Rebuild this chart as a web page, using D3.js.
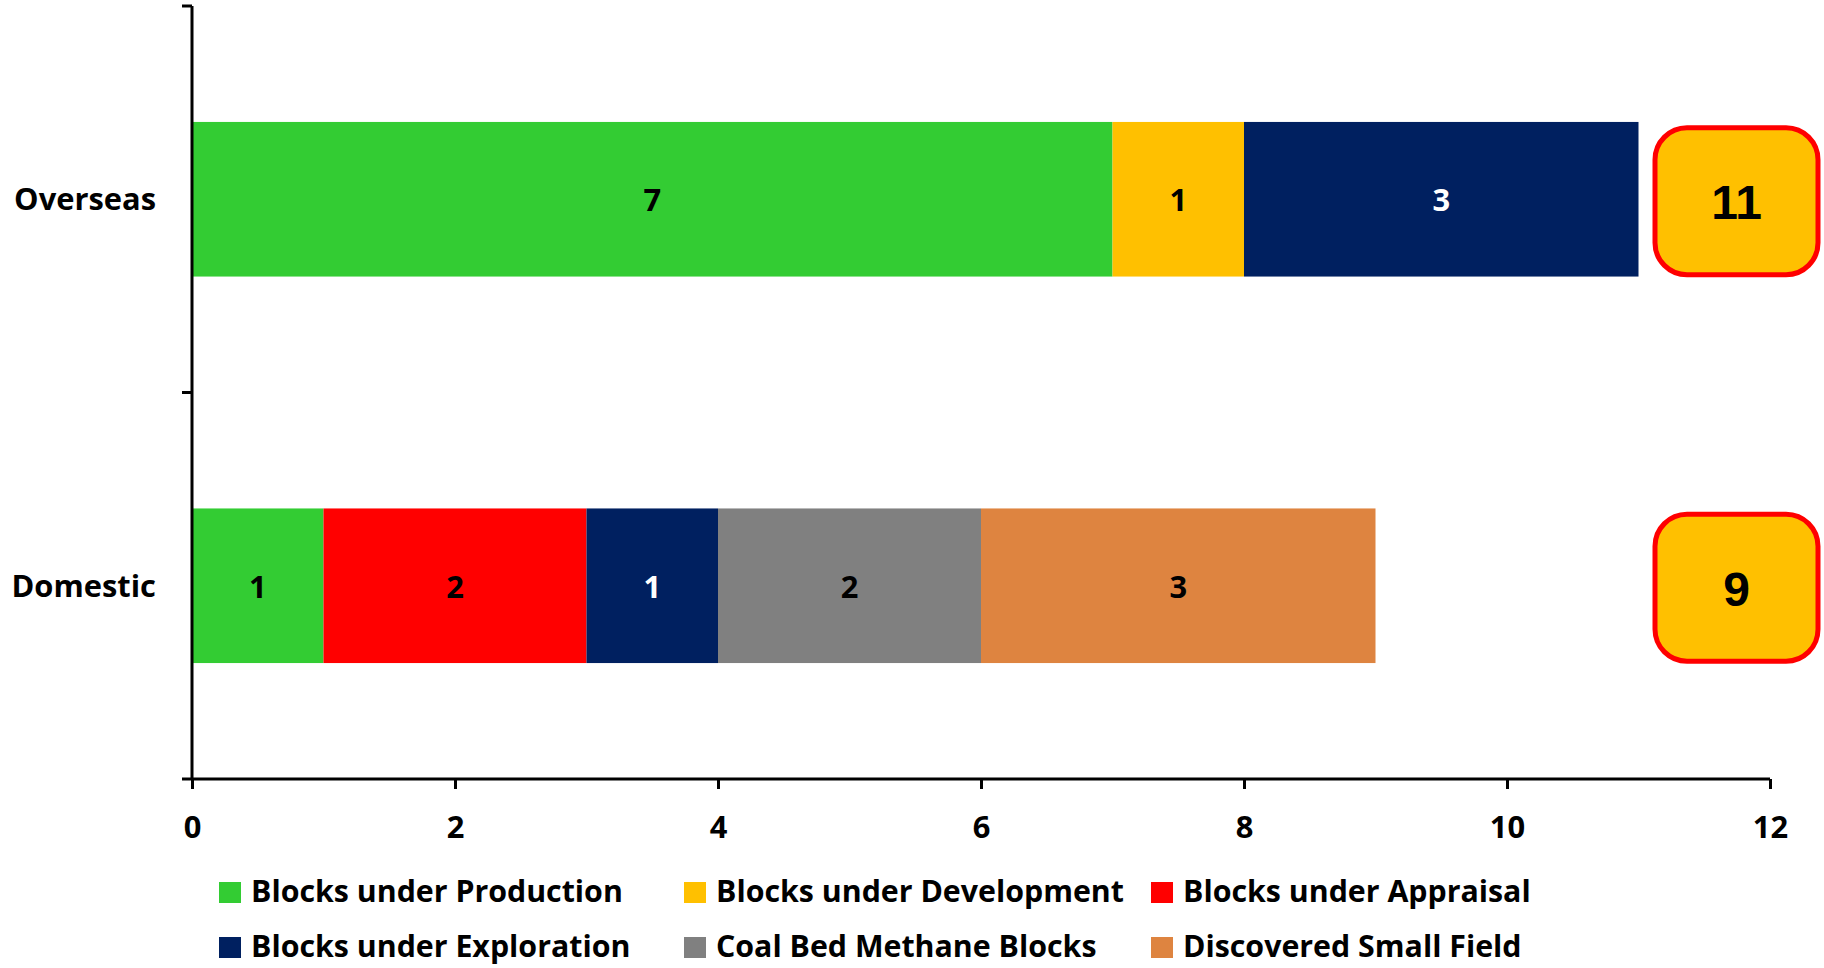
<!DOCTYPE html>
<html><head><meta charset="utf-8">
<script src="https://cdn.jsdelivr.net/npm/d3@7"></script>
<style>body{margin:0;background:#fff}svg{display:block}</style>
</head><body>
<script>
const categories = ["Overseas", "Domestic"];
const seriesNames = ["Blocks under Production", "Blocks under Development", "Blocks under Appraisal", "Blocks under Exploration", "Coal Bed Methane Blocks", "Discovered Small Field"];
const seriesColors = ["#33CC33", "#FFC000", "#FF0000", "#002060", "#808080", "#DE8440"];
const overseasValues = [7, 1, 0, 3, 0, 0];
const domesticValues = [1, 0, 2, 1, 2, 3];
const xTickValues = [0, 2, 4, 6, 8, 10, 12];

const W = 1824, H = 968;
const svg = d3.select("body").append("svg").attr("width", W).attr("height", H);
const FONT = "'Open Sans', Lato, sans-serif";

function fitSize(str, target, base) {
  const t = svg.append("text").attr("font-family", FONT).attr("font-weight", "bold").attr("font-size", base).text(str);
  const w = t.node().getComputedTextLength();
  t.remove();
  return base * target / w;
}
const legendSize = Math.min(32, fitSize("Blocks under Production", 372, 28));
const catSize = Math.min(34, fitSize("Overseas", 142, 28));

const x = d3.scaleLinear().domain([0, 12]).range([192, 1770]);
const y = d3.scaleBand().domain(categories).range([6, 779]).paddingInner(0.6).paddingOuter(0.3);

const valuesByCat = {Overseas: overseasValues, Domestic: domesticValues};
const rows = categories.map(c => {
  let acc = 0;
  const segs = valuesByCat[c].map((v, i) => {
    const s = {cat: c, i, v, x0: acc, x1: acc + v};
    acc += v;
    return s;
  }).filter(s => s.v > 0);
  return {cat: c, segs, total: acc};
});

// bars
const g = svg.append("g");
rows.forEach(r => {
  g.selectAll(null).data(r.segs).enter().append("rect")
    .attr("x", d => x(d.x0)).attr("y", y(r.cat))
    .attr("width", d => x(d.x1) - x(d.x0)).attr("height", y.bandwidth())
    .attr("fill", d => seriesColors[d.i]);
  g.selectAll(null).data(r.segs).enter().append("text")
    .attr("x", d => x((d.x0 + d.x1) / 2)).attr("y", y(r.cat) + y.bandwidth() / 2 + 12)
    .attr("text-anchor", "middle").attr("font-family", FONT).attr("font-weight", "bold")
    .attr("font-size", catSize).attr("fill", d => d.i === 3 ? "#fff" : "#000")
    .text(d => d.v);
});

// axes
const yAxis = d3.axisLeft(y).tickSize(0).tickFormat("");
const yg = svg.append("g").attr("transform", `translate(${x(0)},0)`).call(yAxis);
yg.select(".domain").remove();
yg.append("line").attr("x1", 0).attr("x2", 0).attr("y1", 6).attr("y2", 779).attr("stroke", "#000").attr("stroke-width", 3);
const yBounds = [6, (y("Overseas") + y.bandwidth() + y("Domestic")) / 2, 779];
yg.selectAll(".bt").data(yBounds).enter().append("line")
  .attr("x1", -10).attr("x2", 0).attr("y1", d => d).attr("y2", d => d)
  .attr("stroke", "#000").attr("stroke-width", 3);
svg.selectAll(".cl").data(categories).enter().append("text")
  .attr("x", 156).attr("y", d => y(d) + y.bandwidth() / 2 + 11)
  .attr("text-anchor", "end").attr("font-family", FONT).attr("font-weight", "bold")
  .attr("font-size", catSize).attr("fill", "#000").text(d => d);

const xAxis = d3.axisBottom(x).tickValues(xTickValues).tickSize(10).tickPadding(27).tickFormat(d3.format("d"));
const xg = svg.append("g").attr("transform", "translate(0,779)").call(xAxis);
xg.select(".domain").attr("stroke", "#000").attr("stroke-width", 3).attr("d", `M${x(0)},0H${x(12)}`);
xg.selectAll(".tick line").attr("stroke", "#000").attr("stroke-width", 3);
xg.selectAll(".tick text").attr("font-family", FONT).attr("font-weight", "bold").attr("font-size", catSize).attr("fill", "#000");

// total boxes
const bw = 163, bh = 147;
rows.forEach(r => {
  const cy = y(r.cat) + y.bandwidth() / 2 + 2;
  svg.append("rect").attr("x", 1655).attr("y", cy - bh / 2).attr("width", bw).attr("height", bh)
    .attr("rx", 32).attr("ry", 32).attr("fill", "#FFC000").attr("stroke", "#FF0000").attr("stroke-width", 5);
  svg.append("text").attr("x", 1655 + bw / 2).attr("y", cy + 18)
    .attr("text-anchor", "middle").attr("font-family", "'Liberation Sans', Arial, sans-serif")
    .attr("font-weight", "bold").attr("font-size", 48).attr("fill", "#000").text(r.total);
});

// legend
const colX = [219, 684, 1151];
const rowY = [902, 957];
const leg = svg.append("g");
seriesNames.forEach((name, i) => {
  const cx = colX[i % 3], by = rowY[Math.floor(i / 3)];
  leg.append("rect").attr("x", cx).attr("y", by - 20).attr("width", 22).attr("height", 21).attr("fill", seriesColors[i]);
  leg.append("text").attr("x", cx + 32).attr("y", by).attr("font-family", FONT).attr("font-weight", "bold")
    .attr("font-size", legendSize).attr("fill", "#000").text(name);
});
</script>
</body></html>
